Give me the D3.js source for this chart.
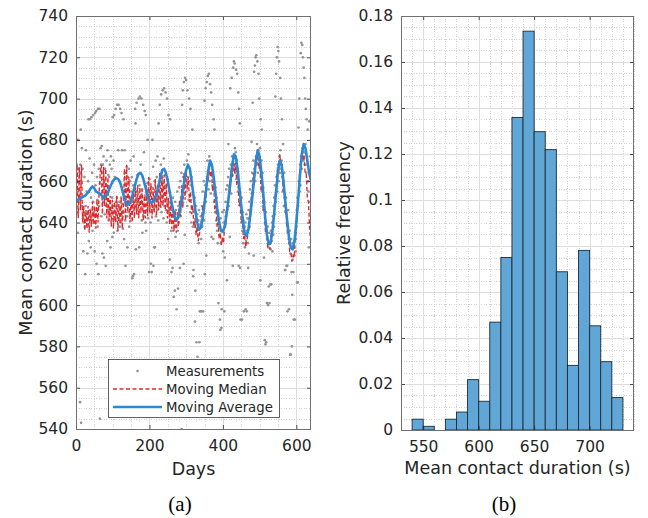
<!DOCTYPE html>
<html><head><meta charset="utf-8">
<script src="https://cdn.jsdelivr.net/npm/d3@7/dist/d3.min.js"></script>
<style>body{margin:0;background:#fff}svg{display:block}</style>
</head><body>
<script>
// ---------------- DATA ----------------
// (a) daily measurements, day 0..639
const measurements = [
662,648,668,655,645,635,680,666,652,660,
664,553,668,685,543,659,676,648,666,642,
626,645,640,662,638,615,648,675,641,655,
644,625,639,660,690,631,643,671,690,646,
628,652,691,641,664,636,650,692,645,668,
640,626,693,658,644,694,620,662,651,638,
695,615,666,648,695,545,659,676,668,643,
677,664,625,668,650,672,623,660,644,666,
654,619,648,670,658,631,675,646,663,641,
662,645,668,650,628,672,647,666,652,633,
691,648,670,635,692,645,662,641,695,650,
644,652,697,636,648,675,697,642,650,638,
695,646,640,652,693,675,643,649,637,690,
645,632,675,664,641,619,656,648,667,643,
628,662,650,645,666,638,652,660,644,670,
655,647,662,613,650,614,658,672,615,653,
648,695,688,627,655,698,646,663,651,644,
700,650,628,658,701,645,668,652,700,641,
656,635,662,697,648,674,643,694,653,640,
692,636,651,646,659,680,642,655,648,616,
661,645,654,640,620,657,616,650,680,646,
667,619,652,628,660,628,648,670,643,655,
662,646,672,651,641,688,658,648,697,663,
652,668,702,645,660,650,704,657,642,671,
705,648,663,654,703,646,658,640,700,650,
661,632,692,645,655,622,690,641,650,636,
616,648,640,618,652,636,604,645,638,607,
650,633,646,638,598,642,655,636,608,648,
640,657,646,618,660,643,652,664,540,697,
650,704,662,620,708,668,634,710,658,664,
709,655,670,648,704,662,673,651,700,660,
666,645,695,658,640,662,648,685,638,614,
617,645,638,652,592,607,640,648,582,636,
644,575,634,641,630,646,582,597,639,597,
643,632,597,648,638,655,597,646,660,641,
699,615,658,705,650,624,708,662,670,711,
664,656,712,672,660,707,668,654,703,633,
667,697,658,662,632,690,650,685,655,645,
657,648,641,652,636,646,630,644,601,638,
640,634,593,588,642,630,589,598,636,645,
632,626,640,646,597,623,638,650,643,656,
645,612,658,650,662,678,648,666,655,633,
705,660,668,654,710,672,663,619,715,666,
718,668,717,676,664,674,714,661,670,712,
666,655,703,619,695,650,688,618,593,648,
640,652,593,636,645,630,641,597,633,638,
628,640,598,631,644,597,636,642,630,618,
646,625,650,638,656,644,660,648,679,654,
664,698,658,670,624,713,666,716,660,720,
672,721,668,678,718,664,675,712,670,700,
668,676,612,690,662,670,685,655,664,648,
657,646,623,650,583,640,581,645,582,636,
601,632,638,600,628,609,635,601,630,610,
627,636,610,631,640,626,643,634,648,638,
652,644,658,701,650,712,662,720,655,725,
668,723,660,718,672,664,710,675,700,666,
670,690,662,655,678,660,648,664,652,617,
617,645,652,619,640,619,597,638,646,632,
598,630,636,576,625,576,632,616,580,605,
622,630,616,593,628,624,593,635,626,632,
638,646,611,652,611,648,686,660,700,655,
668,658,722,672,727,666,726,676,720,670,
715,674,710,668,700,678,695,664,690,672,
668,685,660,655,628,689,650,664,672,596];

// moving median, sampled every 3 days (day 0,3,6,...)
const medianStep = 3;
const movingMedian = [
650,668,642,667,646,668,640,648,636,646,
637,648,635,646,638,650,639,648,637,651,
640,655,664,668,644,667,648,666,642,662,
641,653,638,651,637,650,640,653,636,649,
639,652,637,648,666,641,668,645,662,640,
652,640,655,642,657,644,658,642,657,645,
656,641,653,642,658,643,662,645,659,642,
657,645,661,643,658,646,664,647,665,648,
663,646,659,642,652,639,650,637,648,636,
646,635,645,638,651,643,658,647,664,651,
665,656,662,650,655,644,648,638,642,634,
638,631,634,638,642,648,646,655,652,662,
660,667,662,665,655,658,646,648,638,640,
632,635,629,633,630,640,638,648,646,658,
655,666,662,670,664,669,658,660,648,650,
640,641,632,634,628,631,634,640,645,652,
655,664,662,670,668,673,666,668,655,658,
645,646,635,636,628,630,627,634,633,641,
643,654,656,667,664,673,668,668,656,657,
645,644,634,634,626,626,621,624,623,632,
636,648,652,664,666,675,670,673,664,664,
652,650,638,630];

// moving average, sampled every 5 days (day 0,5,...,640)
const averageStep = 5;
const movingAverage = [
650,651,651.5,652,652.5,653,654,655,656.5,657.5,
656.5,655,654.5,654,653,652,652.5,653.5,656,658,
660,661,661.5,661,659.5,656.5,653,650,648.5,649,
651,654,657.5,661,663.5,664,663,660,656.5,653,
650.5,649.5,650,651.5,654,658,662,665.5,666,664,
660,655,650,645.5,642,641.5,643.5,648,654,660,
665.5,668,666,660,653,646,640,636.5,637.5,642,
649,657,665,670,668,662,654,646,640,636,
635.5,638,644,651,659,667,673,672,666,657,
648,640,634.5,633.5,637,644,652,661,670,675,
672,664,654,643,634,629.5,630,636,645,655,
665,670,668,660,650,641,633,628,627,631,
640,651,663,673,678,676,670,664,660];

const seriesNames = ["Measurements","Moving Median","Moving Average"];
const leftXTicks = [0,200,400,600];
const leftYTicks = [540,560,580,600,620,640,660,680,700,720,740];

// (b) histogram
const binStarts = [540,550,560,570,580,590,600,610,620,630,640,650,660,670,680,690,700,710,720];
const binWidth = 10;
const relFrequency = [0.0047,0.0016,0,0.0047,0.0078,0.0219,0.0125,0.0469,0.0750,0.1359,
  0.1734,0.1297,0.1219,0.0688,0.0281,0.0781,0.0453,0.0297,0.0141];
const rightXTicks = [550,600,650,700];
const rightYTicks = [0,0.02,0.04,0.06,0.08,0.1,0.12,0.14,0.16,0.18];
const rightYLabels = ["0","0.02","0.04","0.06","0.08","0.1","0.12","0.14","0.16","0.18"];

// ---------------- DRAWING ----------------
const FONT = '"DejaVu Sans", Verdana, sans-serif';
const TXT = "#262626";
const svg = d3.select("body").append("svg").attr("width",648).attr("height",518);

function near(arr,v){return arr.some(a=>Math.abs(a-v)<1e-9);}

function drawGrid(g, box, x, y, xMaj, xMin, yMaj, yMin){
  const gg = g.append("g").attr("shape-rendering","crispEdges");
  const px = d => Math.round(x(d))+0.5, py = d => Math.round(y(d))+0.5;
  gg.selectAll(".vm").data(xMin.filter(v=>!near(xMaj,v))).join("line")
    .attr("x1",px).attr("x2",px).attr("y1",box.y0).attr("y2",box.y1)
    .attr("stroke","#d3d3d3").attr("stroke-dasharray","1,1.5");
  gg.selectAll(".hm").data(yMin.filter(v=>!near(yMaj,v))).join("line")
    .attr("y1",py).attr("y2",py).attr("x1",box.x0).attr("x2",box.x1)
    .attr("stroke","#d3d3d3").attr("stroke-dasharray","1,1.5");
  gg.selectAll(".vM").data(xMaj).join("line")
    .attr("x1",px).attr("x2",px).attr("y1",box.y0).attr("y2",box.y1)
    .attr("stroke","#dedede");
  gg.selectAll(".hM").data(yMaj).join("line")
    .attr("y1",py).attr("y2",py).attr("x1",box.x0).attr("x2",box.x1)
    .attr("stroke","#dedede");
}

function drawAxes(g, box, x, y, xTicks, yTicks, xFmt, yFmt){
  const style = a => {
    a.select(".domain").remove();
    a.selectAll(".tick line").attr("stroke",TXT).attr("stroke-width",0.8);
    a.selectAll("text").attr("fill",TXT).style("font-family",FONT).style("font-size","15.5px");
  };
  g.append("g").attr("transform",`translate(0,${box.y1})`)
    .call(d3.axisBottom(x).tickValues(xTicks).tickSize(-4).tickPadding(11).tickFormat(xFmt)).call(style);
  g.append("g").attr("transform",`translate(0,${box.y0})`)
    .call(d3.axisTop(x).tickValues(xTicks).tickSize(-4).tickFormat("")).call(style);
  g.append("g").attr("transform",`translate(${box.x0},0)`)
    .call(d3.axisLeft(y).tickValues(yTicks).tickSize(-4).tickPadding(8).tickFormat(yFmt)).call(style);
  g.append("g").attr("transform",`translate(${box.x1},0)`)
    .call(d3.axisRight(y).tickValues(yTicks).tickSize(-4).tickFormat("")).call(style);
  g.append("rect").attr("x",box.x0+0.5).attr("y",box.y0+0.5)
    .attr("width",box.x1-box.x0-1).attr("height",box.y1-box.y0)
    .attr("fill","none").attr("stroke","#707070").attr("shape-rendering","crispEdges");
}

// ---- Panel (a)
const A = {x0:76, x1:311, y0:16, y1:429};
const xA = d3.scaleLinear().domain([0,640]).range([A.x0,A.x1]);
const yA = d3.scaleLinear().domain([540,740]).range([A.y1,A.y0]);
const gA = svg.append("g");
drawGrid(gA, A, xA, yA, leftXTicks, d3.range(0,641,50), leftYTicks, d3.range(540,741,5));

gA.append("clipPath").attr("id","clipA").append("rect")
  .attr("x",A.x0).attr("y",A.y0).attr("width",A.x1-A.x0).attr("height",A.y1-A.y0);
const dataA = gA.append("g").attr("clip-path","url(#clipA)");

dataA.selectAll("circle").data(measurements).join("circle")
  .attr("cx",(d,i)=>xA(i)).attr("cy",d=>yA(d)).attr("r",1.35).attr("fill","#959595");

const medLine = d3.line().x((d,i)=>xA(i*medianStep)).y(d=>yA(d));
dataA.append("path").attr("d",medLine(movingMedian)).attr("fill","none")
  .attr("stroke","#e4262a").attr("stroke-width",1.35).attr("stroke-dasharray","4,2.5");

const avgLine = d3.line().x((d,i)=>xA(i*averageStep)).y(d=>yA(d));
dataA.append("path").attr("d",avgLine(movingAverage)).attr("fill","none")
  .attr("stroke","#2a88d4").attr("stroke-width",2.6).attr("stroke-linejoin","round");

drawAxes(gA, A, xA, yA, leftXTicks, leftYTicks, d3.format("d"), d3.format("d"));

// legend
const leg = gA.append("g");
leg.append("rect").attr("x",108.5).attr("y",359.5).attr("width",171).attr("height",58)
  .attr("fill","#fff").attr("stroke","#3a3a3a").attr("stroke-width",0.8);
const ly = [371, 389, 407];
leg.append("circle").attr("cx",137.5).attr("cy",ly[0]).attr("r",1.35).attr("fill","#959595");
leg.append("line").attr("x1",113).attr("x2",162).attr("y1",ly[1]).attr("y2",ly[1])
  .attr("stroke","#e4262a").attr("stroke-width",1.3).attr("stroke-dasharray","4,2.5");
leg.append("line").attr("x1",113).attr("x2",162).attr("y1",ly[2]).attr("y2",ly[2])
  .attr("stroke","#2a88d4").attr("stroke-width",2.6);
leg.selectAll("text").data(seriesNames).join("text")
  .attr("x",166).attr("y",(d,i)=>ly[i]).attr("dy","0.36em")
  .attr("fill",TXT).style("font-family",FONT).style("font-size","13.3px").text(d=>d);

gA.append("text").attr("x",(A.x0+A.x1)/2).attr("y",475).attr("text-anchor","middle")
  .attr("fill",TXT).style("font-family",FONT).style("font-size","17.5px").text("Days");
gA.append("text").attr("transform",`translate(31.5,${(A.y0+A.y1)/2}) rotate(-90)`)
  .attr("text-anchor","middle").attr("fill",TXT).style("font-family",FONT).style("font-size","17.5px")
  .text("Mean contact duration (s)");

// ---- Panel (b)
const B = {x0:401, x1:634, y0:16, y1:430};
const xB = d3.scaleLinear().domain([530,740]).range([B.x0,B.x1]);
const yB = d3.scaleLinear().domain([0,0.18]).range([B.y1,B.y0]);
const gB = svg.append("g");
drawGrid(gB, B, xB, yB, rightXTicks, d3.range(530,741,10), rightYTicks, d3.range(0,37).map(i=>i*0.005));

gB.selectAll(".bar").data(binStarts.map((s,i)=>({s,v:relFrequency[i]})).filter(d=>d.v>0)).join("rect")
  .attr("x",d=>xB(d.s)).attr("width",d=>xB(d.s+binWidth)-xB(d.s))
  .attr("y",d=>yB(d.v)).attr("height",d=>yB(0)-yB(d.v))
  .attr("fill","#60a6d6").attr("stroke","#1d2b36").attr("stroke-width",0.9);

drawAxes(gB, B, xB, yB, rightXTicks, rightYTicks, d3.format("d"), (d,i)=>rightYLabels[i]);

gB.append("text").attr("x",(B.x0+B.x1)/2).attr("y",474).attr("text-anchor","middle")
  .attr("fill",TXT).style("font-family",FONT).style("font-size","17.5px").text("Mean contact duration (s)");
gB.append("text").attr("transform",`translate(349.5,${(B.y0+B.y1)/2}) rotate(-90)`)
  .attr("text-anchor","middle").attr("fill",TXT).style("font-family",FONT).style("font-size","17.5px")
  .text("Relative frequency");

// captions
svg.append("text").attr("x",180).attr("y",511).attr("text-anchor","middle").attr("fill","#000")
  .style("font-family",'"Liberation Serif", "Times New Roman", serif').style("font-size","21px").text("(a)");
svg.append("text").attr("x",504).attr("y",511).attr("text-anchor","middle").attr("fill","#000")
  .style("font-family",'"Liberation Serif", "Times New Roman", serif').style("font-size","21px").text("(b)");
</script>
</body></html>
